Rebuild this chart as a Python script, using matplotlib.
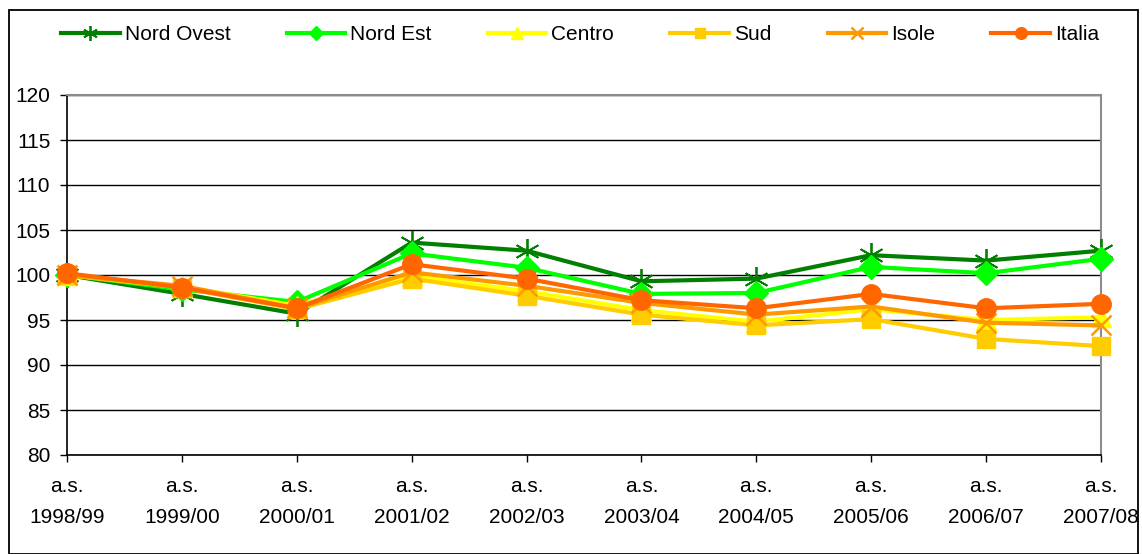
import matplotlib
matplotlib.use("Agg")
import matplotlib.pyplot as plt
from matplotlib.patches import Rectangle

plt.rcParams['font.family'] = ['Liberation Sans', 'DejaVu Sans']

categories = ['1998/99', '1999/00', '2000/01', '2001/02', '2002/03',
              '2003/04', '2004/05', '2005/06', '2006/07', '2007/08']
tick_labels = ['a.s.\n' + c for c in categories]

nord_ovest = [100.0, 97.9, 95.7, 103.6, 102.7, 99.3, 99.6, 102.2, 101.6, 102.7]
nord_est   = [100.0, 98.4, 97.0, 102.4, 100.8, 97.9, 98.0, 100.9, 100.2, 101.8]
centro     = [100.0, 98.7, 96.6, 99.9, 98.2, 96.1, 94.8, 96.2, 95.0, 95.3]
sud        = [100.0, 98.6, 96.2, 99.6, 97.7, 95.6, 94.4, 95.1, 92.9, 92.1]
isole      = [100.0, 98.8, 96.3, 100.3, 98.8, 96.9, 95.6, 96.5, 94.7, 94.4]
italia     = [100.2, 98.6, 96.3, 101.2, 99.6, 97.2, 96.3, 97.9, 96.3, 96.8]

series = [
    ('Nord Ovest', nord_ovest, '#007F00', (6, 2, 0), 18, 1.3),
    ('Nord Est', nord_est, '#00FF00', 'D', 12.5, 1.0),
    ('Centro', centro, '#FFFF00', '^', 14, 1.0),
    ('Sud', sud, '#FFCC00', 's', 13, 1.0),
    ('Isole', isole, '#FF9900', 'x', 14, 1.8),
    ('Italia', italia, '#FF6600', 'o', 14, 1.0),
]

fig = plt.figure(figsize=(11.42, 5.54), dpi=100)
ax = fig.add_axes([67/1142, 1-455/554, (1101-67)/1142, 360/554])

x = list(range(len(categories)))
for name, vals, col, mk, ms, mew in series:
    ax.plot(x, vals, color=col, lw=3, marker=mk, markersize=ms,
            markerfacecolor=col, markeredgecolor=col, markeredgewidth=mew,
            label=name, zorder=3, clip_on=False)

ax.set_xlim(0, len(categories) - 1)
ax.set_ylim(80, 120)
ax.set_yticks(range(80, 121, 5))
ax.set_xticks(x)
ax.set_xticklabels(tick_labels, linespacing=1.8)
ax.tick_params(axis='both', labelsize=15, direction='out', length=5, width=1, color='black')
ax.tick_params(axis='x', pad=11)
ax.tick_params(axis='y', pad=7)

ax.grid(axis='y', color='black', lw=1, zorder=1)
ax.set_axisbelow(True)
for s in ['left', 'bottom']:
    ax.spines[s].set_color('black')
    ax.spines[s].set_linewidth(1.2)
for s in ['top', 'right']:
    ax.spines[s].set_color('#8C8C8C')
    ax.spines[s].set_linewidth(1.5)

leg = fig.legend(loc='center', bbox_to_anchor=(0.508, 1-35/554), ncol=6, frameon=False,
                 fontsize=15, handlelength=2.8, handletextpad=0.25, columnspacing=2.7,
                 markerscale=0.6)

fig.patches.append(Rectangle((9/1142, 0), (1138-9)/1142, 1-10/554, transform=fig.transFigure,
                             fill=False, edgecolor='black', lw=1.3, zorder=10))

fig.savefig('out.png', dpi=100)
